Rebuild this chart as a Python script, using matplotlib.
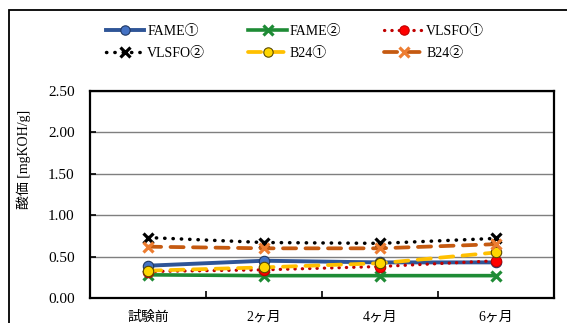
import matplotlib
matplotlib.use("Agg")
import matplotlib.pyplot as plt
from matplotlib.patches import Rectangle

plt.rcParams['font.family'] = ['Liberation Serif', 'Noto Sans CJK JP', 'DejaVu Sans']

categories = ["試験前", "2ヶ月", "4ヶ月", "6ヶ月"]
fame1 = [0.39, 0.45, 0.43, 0.43]
fame2 = [0.28, 0.27, 0.27, 0.27]
vlsfo1 = [0.32, 0.34, 0.38, 0.45]
vlsfo2 = [0.73, 0.67, 0.66, 0.72]
b24_1 = [0.33, 0.37, 0.42, 0.55]
b24_2 = [0.62, 0.60, 0.60, 0.65]
series_labels = ["FAME①", "FAME②", "VLSFO①", "VLSFO②", "B24①", "B24②"]
yticks = [0.0, 0.5, 1.0, 1.5, 2.0, 2.5]

fig = plt.figure(figsize=(5.67, 3.23), dpi=100)
ax = fig.add_axes([90/567, 1-298/323, 464/567, 207/323])

x = list(range(len(categories)))
h = []
h.append(ax.plot(x, fame1, color='#2F5597', lw=2.8, marker='o', ms=7.5,
                 mfc='#4472C4', mec='#1F3864', mew=0.8, label=series_labels[0])[0])
h.append(ax.plot(x, fame2, color='#1E8B35', lw=2.6, marker='x', ms=7.5,
                 mec='#1E8B35', mew=2.3, label=series_labels[1])[0])
h.append(ax.plot(x, vlsfo1, color='#C00000', lw=2.3, ls=(0, (0.1, 2.2)),
                 dash_capstyle='round', marker='o', ms=7.5, mfc='#FF0000',
                 mec='#C00000', mew=0.8, label=series_labels[2])[0])
h.append(ax.plot(x, vlsfo2, color='black', lw=2.5, ls=(0, (0.1, 2.3)),
                 dash_capstyle='round', marker='x', ms=7.5, mec='black',
                 mew=2.3, label=series_labels[3])[0])
h.append(ax.plot(x, b24_1, color='#FFC000', lw=2.7, ls=(0, (3.5, 2.5)),
                 dash_capstyle='round', marker='o', ms=7.5, mfc='#FFD700',
                 mec='#5A4A00', mew=0.8, label=series_labels[4])[0])
h.append(ax.plot(x, b24_2, color='#C55A11', lw=2.7, ls=(0, (3.5, 2.5)),
                 dash_capstyle='round', marker='x', ms=7.5, mec='#ED7D31',
                 mew=2.3, label=series_labels[5])[0])

ax.set_xlim(-0.5, 3.5)
ax.set_ylim(0, 2.5)
ax.set_yticks(yticks)
ax.set_yticklabels([f"{v:.2f}" for v in yticks], fontsize=11)
ax.set_xticks(x)
ax.set_xticklabels(categories, fontsize=10)
ax.set_xticks([0.5, 1.5, 2.5], minor=True)
ax.tick_params(axis='x', which='major', length=0, pad=9)
ax.tick_params(axis='x', which='minor', direction='in', length=5, width=1.2)
ax.tick_params(axis='y', direction='in', length=4, width=1.2, pad=11)
ax.grid(axis='y', color='#7F7F7F', lw=1.0)
ax.set_axisbelow(True)
for s in ax.spines.values():
    s.set_linewidth(1.6)
ax.set_ylabel("酸価 [mgKOH/g]", fontsize=10)
ax.yaxis.set_label_coords(-0.128, 0.671)

order = [0, 3, 1, 4, 2, 5]
fig.legend([h[i] for i in order], [series_labels[i] for i in order],
           ncol=3, loc='upper left', bbox_to_anchor=(93/567, 1-12/323),
           frameon=False, fontsize=10, handlelength=2.8, handletextpad=0.2,
           columnspacing=3.1, labelspacing=0.7, markerscale=0.9)

fig.add_artist(Rectangle((9/567, -0.1), 1.0, 1 - 10/323 + 0.1,
                         transform=fig.transFigure, fill=False,
                         edgecolor='black', lw=1.3))

fig.savefig("out.png", dpi=100)
